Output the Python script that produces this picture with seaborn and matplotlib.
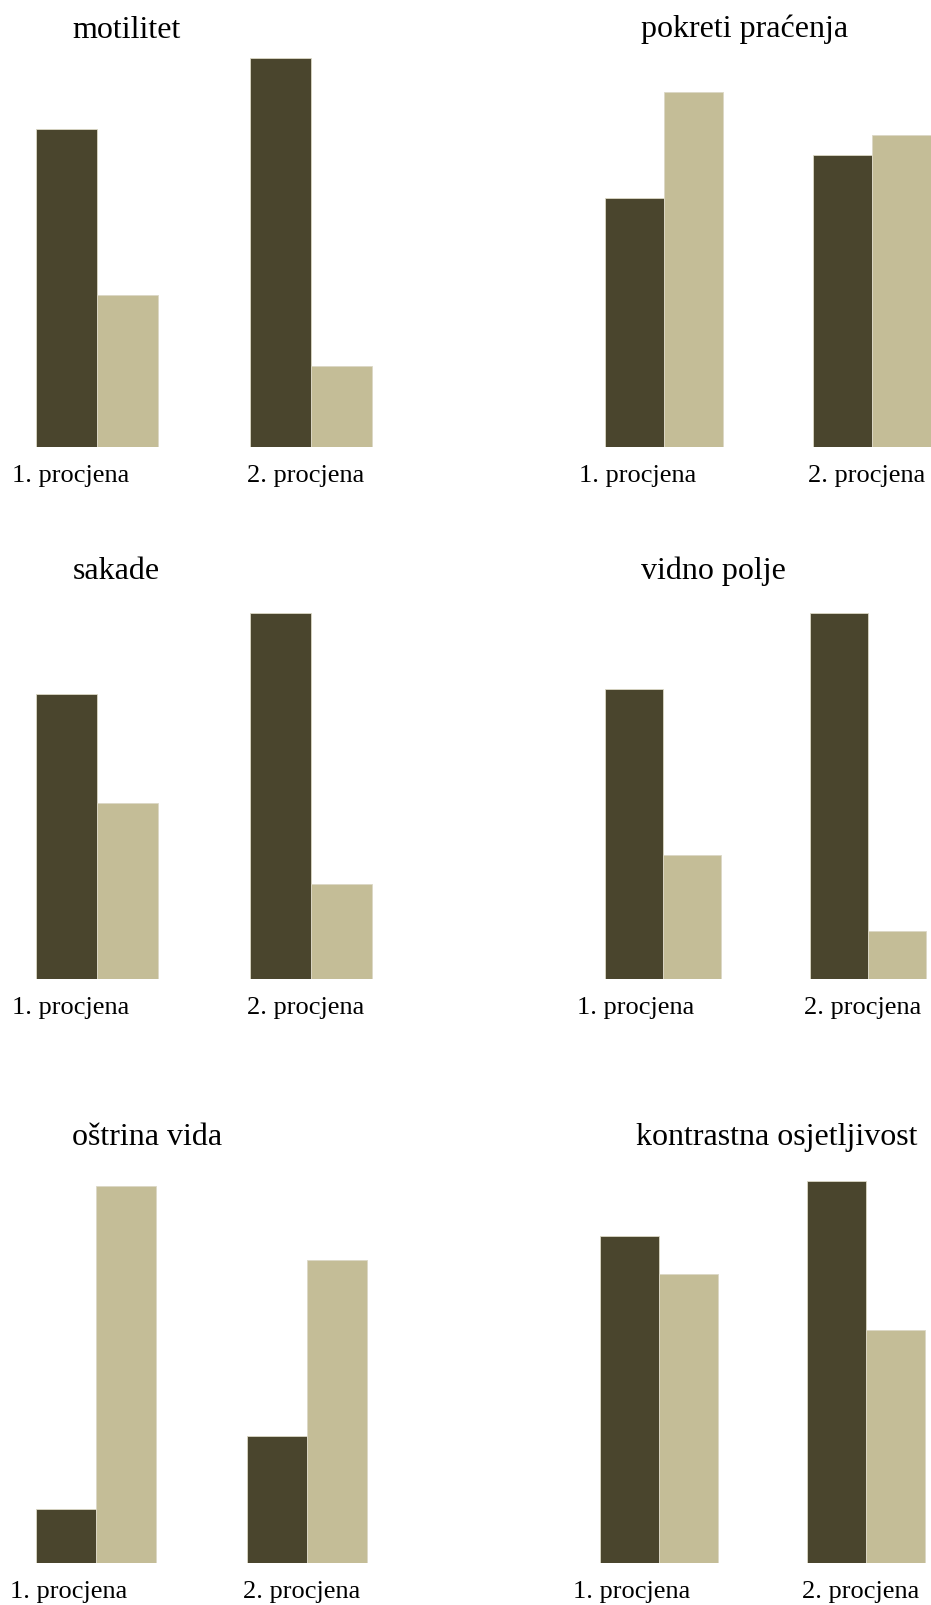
import numpy as np
import pandas as pd
import matplotlib
matplotlib.use("Agg")
import matplotlib.pyplot as plt
import seaborn as sns

# share of patients per assessment (dark = first group, light = second group), %
titles = ["motilitet", "pokreti praćenja", "sakade", "vidno polje",
          "oštrina vida", "kontrastna osjetljivost"]
assessments = ["1. procjena", "2. procjena"]
dark_vals = [67.7, 41.2, 61.8, 70.0, 12.5, 53.1]
light_vals = [32.3, 58.8, 38.2, 30.0, 87.5, 46.9]
dark_vals_2 = [82.8, 48.3, 79.4, 88.5, 29.5, 62.1]
light_vals_2 = [17.2, 51.7, 20.6, 11.5, 70.5, 37.9]
groups = ["a", "b"]

DARK = "#4a452d"
LIGHT = "#c4bd97"

W, H = 931, 1605
# panel geometry in pixels: group centre 1, group centre 2, baseline, px per %
geom = [
    (97.3, 311.0, 447.3, 4.70),
    (664.3, 871.7, 447.3, 6.05),
    (97.3, 311.0, 979.0, 4.61),
    (663.0, 868.0, 979.0, 4.14),
    (96.0, 307.0, 1562.7, 4.30),
    (659.0, 866.0, 1562.7, 6.15),
]
title_pos = [(72.7, 38), (641, 37), (72.7, 579), (641, 579), (71.7, 1145), (636, 1145)]

rows = []
for i, t in enumerate(titles):
    rows.append({"panel": t, "procjena": assessments[0], "grupa": "a", "value": dark_vals[i]})
    rows.append({"panel": t, "procjena": assessments[0], "grupa": "b", "value": light_vals[i]})
    rows.append({"panel": t, "procjena": assessments[1], "grupa": "a", "value": dark_vals_2[i]})
    rows.append({"panel": t, "procjena": assessments[1], "grupa": "b", "value": light_vals_2[i]})
df = pd.DataFrame(rows)

sns.set_style("white")
plt.rcParams["font.family"] = ["Liberation Serif", "DejaVu Serif"]

fig = plt.figure(figsize=(W / 100, H / 100), dpi=100)

for i, t in enumerate(titles):
    c0, c1, base, ppp = geom[i]
    unit = c1 - c0
    left = c0 - 0.4 * unit
    width = 1.8 * unit
    height = 100 * ppp
    ax = fig.add_axes([left / W, (H - base) / H, width / W, height / H])
    sns.barplot(data=df[df["panel"] == t], x="procjena", y="value", hue="grupa",
                hue_order=groups, palette=[DARK, LIGHT], width=0.57, saturation=1,
                edgecolor="#dcd8c6", linewidth=0.6, legend=False, ax=ax)
    ax.set_xlim(-0.4, 1.4)
    ax.set_ylim(0, 100)
    sns.despine(ax=ax, left=True, bottom=True)
    ax.set_yticks([])
    ax.set_xlabel("")
    ax.set_ylabel("")
    ax.set_xticks([-27 / unit, 1 - 5 / unit], assessments)
    ax.tick_params(axis="x", length=0, pad=13, labelsize=19, labelcolor="black")
    ax.patch.set_alpha(0)
    tx, ty = title_pos[i]
    fig.text(tx / W, 1 - ty / H, t, fontsize=23, ha="left", va="baseline", color="black")

fig.savefig("out.png", dpi=100)
